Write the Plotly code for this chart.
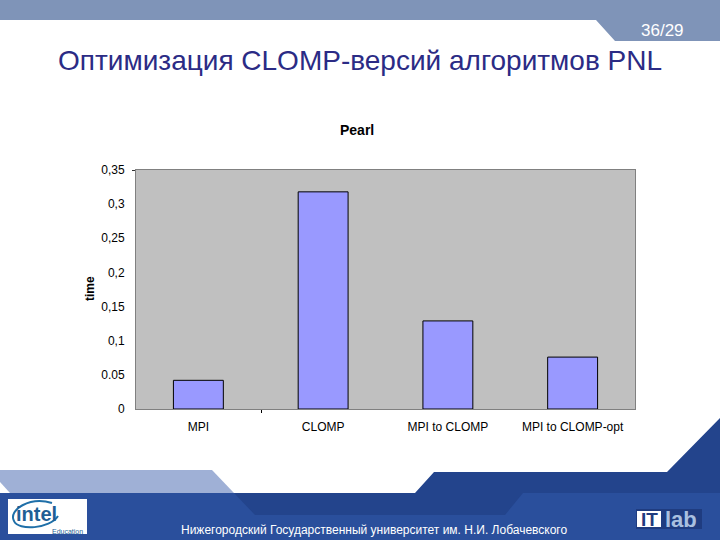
import plotly.graph_objects as go

W, H = 720, 540

categories = ["MPI", "CLOMP", "MPI to CLOMP", "MPI to CLOMP-opt"]
times = [0.042, 0.318, 0.129, 0.076]
tick_vals = [0, 0.05, 0.1, 0.15, 0.2, 0.25, 0.3, 0.35]
tick_text = ["0", "0.05", "0,1", "0,15", "0,2", "0,25", "0,3", "0,35"]

FONT = "Liberation Sans"


def px(x):
    return x / W


def py(y):
    return 1 - y / H


def poly(points, color):
    # slide decoration, points are in screen pixels
    path = "M " + " L ".join(f"{px(x)},{py(y)}" for x, y in points) + " Z"
    return dict(type="path", xref="paper", yref="paper", path=path,
                fillcolor=color, line_width=0, layer="below")


def label(text, x, y, size, color, bold=False, anchor="left", family=FONT):
    if bold:
        text = "<b>" + text + "</b>"
    return dict(text=text, xref="paper", yref="paper", x=px(x), y=py(y),
                xanchor=anchor, yanchor="middle", showarrow=False,
                font=dict(family=family, size=size, color=color))


NAVY = "#23448c"
BLUE = "#2a4f9c"
LIGHT = "#9fb0d6"
TOPBAR = "#7f94b8"

shapes = [
    poly([(0, 0), (720, 0), (720, 41), (615, 41), (596, 20), (0, 20)], TOPBAR),
    poly([(0, 470), (212, 470), (234, 493), (10, 493), (0, 482)], LIGHT),
    poly([(434, 472), (667, 472), (720, 418), (720, 493), (415, 493)], NAVY),
    poly([(0, 493), (720, 493), (720, 540), (0, 540)], BLUE),
    poly([(234, 493), (523, 493), (505, 515), (255, 515)], NAVY),
    poly([(8, 499), (87, 499), (87, 534), (8, 534)], "#ffffff"),
    poly([(636, 509), (702, 509), (702, 529), (636, 529)], "#1f3c80"),
    poly([(637, 511), (661, 511), (661, 527), (637, 527)], "#ffffff"),
    # open swoosh around the intel word
    dict(type="path", xref="paper", yref="paper",
         path=f"M {px(52)},{py(503)} C {px(30)},{py(496)} {px(8)},{py(510)} "
              f"{px(14)},{py(521)} C {px(18)},{py(531)} {px(50)},{py(529)} "
              f"{px(58)},{py(516)}",
         line=dict(color="#1f6fa8", width=2), layer="below"),
    # the only two tick marks the original shows
    poly([(132, 170), (136, 170), (136, 171), (132, 171)], "#333333"),
    poly([(261, 409), (262, 409), (262, 413), (261, 413)], "#000000"),
]

annotations = [
    label("36/29", 686, 30, 17, "#ffffff", anchor="right"),
    label("Оптимизация CLOMP-версий алгоритмов PNL", 360, 61, 28, "#2b2b85",
          anchor="center"),
    label("Pearl", 357, 130, 14, "#000000", bold=True, anchor="center"),
    label("time", 90, 289, 12, "#000000", bold=True, anchor="center"),
    label("Нижегородский Государственный университет им. Н.И. Лобачевского",
          374, 530, 12, "#ffffff", anchor="center"),
    label("intel", 36, 514, 20, "#1f5f95", bold=True, anchor="center"),
    label("Education", 67, 531, 7, "#1f5f95", anchor="center"),
    label("IT", 649, 519, 19, "#1f3c80", bold=True, anchor="center"),
    label("lab", 681, 519, 22, "#a9c0e0", bold=True, anchor="center"),
]
annotations[3]["textangle"] = -90

fig = go.Figure()
fig.add_trace(go.Bar(
    x=categories,
    y=times,
    width=0.4,
    marker=dict(color="#9999ff", line=dict(color="#000000", width=1)),
))

fig.update_layout(
    width=W,
    height=H,
    autosize=False,
    margin=dict(l=0, r=0, t=0, b=0),
    paper_bgcolor="#ffffff",
    plot_bgcolor="#c0c0c0",
    showlegend=False,
    shapes=shapes,
    annotations=annotations,
    font=dict(family=FONT, size=12, color="#000000"),
    xaxis=dict(
        domain=[px(136), px(635)],
        automargin=False,
        showgrid=False,
        zeroline=False,
        showline=True,
        mirror=True,
        linecolor="#808080",
        tickfont=dict(size=12),
        ticklabelstandoff=7,
    ),
    yaxis=dict(
        domain=[py(409), py(170)],
        range=[0, 0.35],
        automargin=False,
        showgrid=False,
        zeroline=False,
        showline=True,
        mirror=True,
        linecolor="#808080",
        tickmode="array",
        tickvals=tick_vals,
        ticktext=tick_text,
        ticks="",
        tickfont=dict(size=12),
        ticklabelstandoff=8,
    ),
)

# the page body has a default margin, drop it so the slide fills the window
fig.write_html("out.html", config={"displayModeBar": False},
               post_script="document.body.style.margin='0';")
